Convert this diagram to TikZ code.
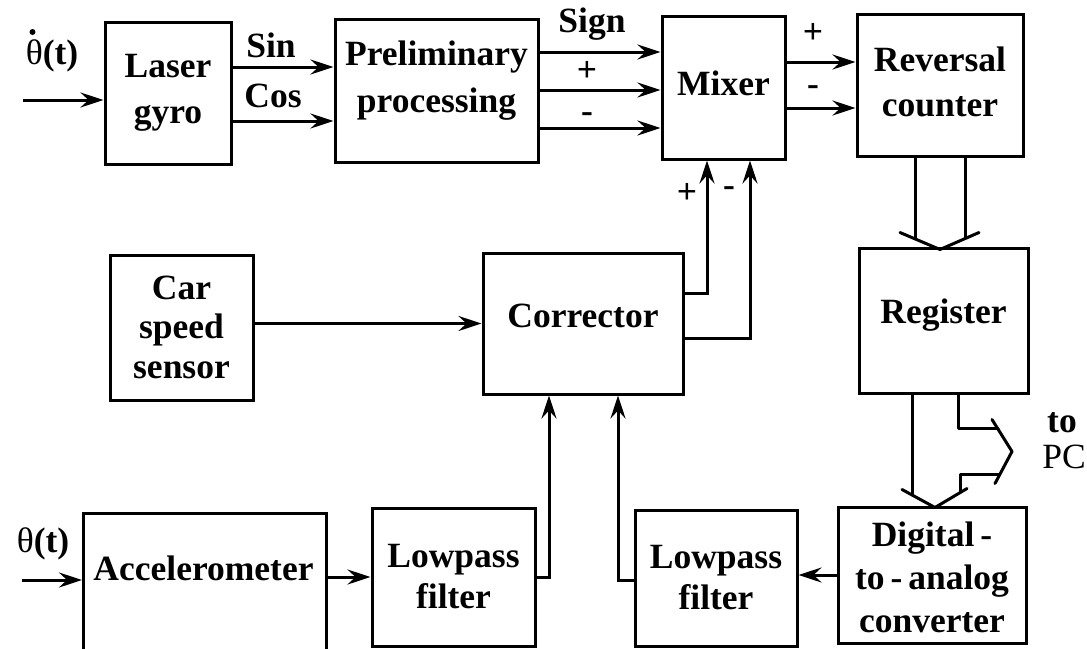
\documentclass[tikz,border=0pt]{standalone}
\usepackage{fontspec}
\setmainfont{Liberation Serif}
\usetikzlibrary{arrows.meta,calc}
\tikzset{
  box/.style={draw, line width=3pt, align=center, inner sep=0pt},
  arr/.style={line width=3pt, -{Stealth[length=23pt,width=15pt,inset=8pt]}},
  bus/.style={line width=3pt, line cap=round, line join=round},
  lbl/.style={inner sep=0pt},
  inlbl/.style={lbl, align=center, yshift=#1},
  every node/.style={font=\fontsize{35.5}{41}\selectfont\bfseries}
}
\begin{document}
\begin{tikzpicture}[x=1pt,y=-1pt]
\useasboundingbox (0,0) rectangle (1087,648);
\fill[white] (0,0) rectangle (1087,648);
\clip (0,0) rectangle (1087,648);

% blocks
\node[box, minimum width=126pt, minimum height=142pt] (gyro) at (168,93) {Laser\\[5pt]gyro};
\node[box, minimum width=203pt, minimum height=143pt,
      label={[inlbl=10pt]center:Preliminary\\[6pt]processing}] (prelim) at (436.5,90.5) {};
\node[box, minimum width=123pt, minimum height=143pt,
      label={[inlbl=4pt]center:Mixer}] (mixer) at (723.5,87.5) {};
\node[box, minimum width=166pt, minimum height=142pt,
      label={[inlbl=3pt]center:Reversal\\[4pt]counter}] (counter) at (940,85) {};
\node[box, minimum width=169pt, minimum height=145pt,
      label={[inlbl=5pt]center:Register}] (register) at (943.5,320.5) {};
\node[box, minimum width=143pt, minimum height=145pt] (car) at (181.5,327.5) {Car\\[-2pt]speed\\[-1pt]sensor};
\node[box, minimum width=200pt, minimum height=141pt,
      label={[inlbl=8pt]center:Corrector}] (corrector) at (583,323.5) {};
\node[box, minimum width=243pt, minimum height=200pt, anchor=north west] (accel) at (82,512) {};
\node[lbl] (acctext) at (203.5,568) {Accelerometer};
\node[box, minimum width=163pt, minimum height=138pt] (lp1) at (453.5,577) {Lowpass\\filter};
\node[box, minimum width=162pt, minimum height=136pt] (lp2) at (716,578) {Lowpass\\filter};
\node[box, minimum width=188pt, minimum height=136pt,
      label={[inlbl=-2pt]center:Digital\,-\\[2pt]to\,-\,analog\\[2pt]converter}] (dac) at (932,575) {};

% inputs
\coordinate (in1) at (23,100);
\draw[arr] (in1) -- (in1 -| gyro.west);
\node[lbl] (thdot) at (52,56) {{\mdseries θ}(t)};
\fill (32.5,32) circle (3pt);
\coordinate (in2) at (22,580);
\draw[arr] (in2) -- (in2 -| accel.west);
\node[lbl] (th) at (43,544) {{\mdseries θ}(t)};

% gyro -> preliminary
\coordinate (sinA) at ([yshift=26pt]gyro.east);
\coordinate (cosA) at ([yshift=-28pt]gyro.east);
\draw[arr] (sinA) -- (sinA -| prelim.west);
\draw[arr] (cosA) -- (cosA -| prelim.west);
\node[lbl] (sinl) at (271,45) {Sin};
\node[lbl] (cosl) at (273,96) {Cos};

% preliminary -> mixer
\coordinate (pA) at ([yshift=38.5pt]prelim.east);
\coordinate (pB) at ([yshift=0.5pt]prelim.east);
\coordinate (pC) at ([yshift=-37.5pt]prelim.east);
\draw[arr] (pA) -- (pA -| mixer.west);
\draw[arr] (pB) -- (pB -| mixer.west);
\draw[arr] (pC) -- (pC -| mixer.west);
\node[lbl] (signl) at (592,24) {Sign};
\node[lbl] (pplus) at (587,71) {+};
\node[lbl] (pminus) at (587,118) {-};

% mixer -> counter
\coordinate (mA) at ([yshift=25.5pt]mixer.east);
\coordinate (mB) at ([yshift=-20.5pt]mixer.east);
\draw[arr] (mA) -- (mA -| counter.west);
\draw[arr] (mB) -- (mB -| counter.west);
\node[lbl] (mplus) at (813,33) {+};
\node[lbl] (mminus) at (813,91) {-};

% car -> corrector
\draw[arr] (corrector.west -| car.east) -- (corrector.west);

% corrector -> mixer
\coordinate (cA) at ([yshift=30.5pt]corrector.east);
\coordinate (cB) at ([yshift=-14.5pt]corrector.east);
\draw[arr] (cA) -| ([xshift=-16.5pt]mixer.south);
\draw[arr] (cB) -| ([xshift=26.5pt]mixer.south);
\node[lbl] (cplus) at (687,193) {+};
\node[lbl] (cminus) at (729,192) {-};

% accelerometer -> lowpass 1 -> corrector
\draw[arr] (lp1.west -| accel.east) -- (lp1.west);
\draw[arr] (lp1.east) -| ([xshift=-34pt]corrector.south);

% dac -> lowpass 2 -> corrector
\draw[arr] (dac.west) -- (dac.west -| lp2.east);
\draw[arr] ([yshift=-2pt]lp2.west) -| ([xshift=35pt]corrector.south);

% bus: counter -> register
\begin{scope}[shift={(counter.south)}]
  \draw[bus] (-25,0) -- (-25,81);
  \draw[bus] (25,0) -- (25,81);
  \draw[bus] (-40,75) -- (0,92) -- (39,75);
\end{scope}

% bus: register -> dac, and to PC
\begin{scope}[shift={(register.south)}]
  \draw[bus] (-31.5,0) -- (-31.5,99);
  \draw[bus] (-41.5,95) -- (-8.5,113) -- (23.5,94);
  \draw[bus] (14.5,0) -- (14.5,34) -- (54.5,34);
  \draw[bus] (56,80) -- (16.5,80) -- (16.5,97);
  \draw[bus] (48.5,25) -- (68.5,57) -- (51.5,89);
\end{scope}
\node[lbl] (tol) at (1062,423) {to};
\node[lbl] (pcl) at (1064,457) {\mdseries PC};

\end{tikzpicture}
\end{document}
